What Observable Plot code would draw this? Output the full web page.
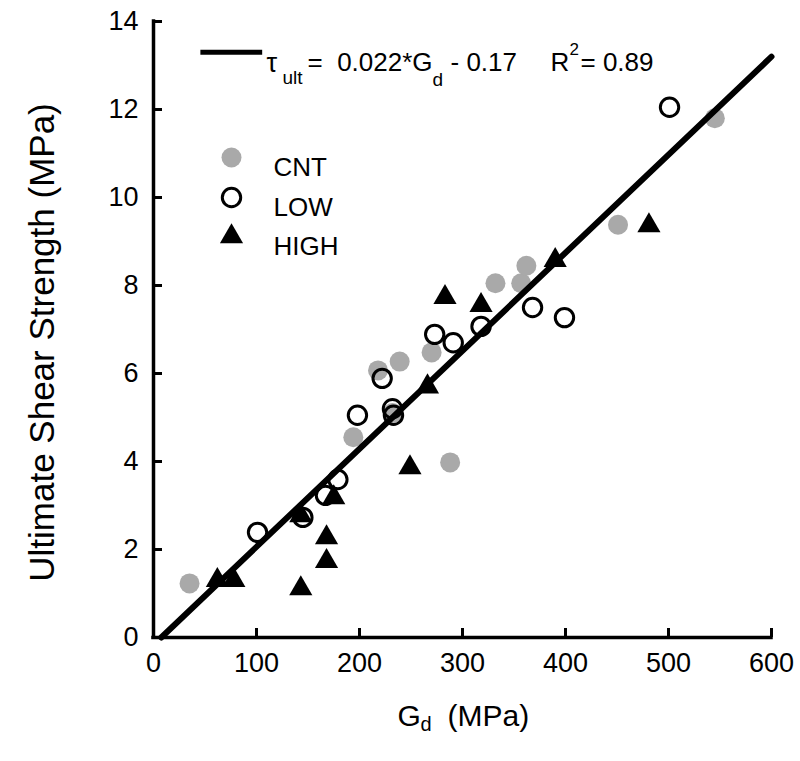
<!DOCTYPE html>
<html>
<head>
<meta charset="utf-8">
<script src="https://cdn.jsdelivr.net/npm/d3@7"></script>
<script src="https://cdn.jsdelivr.net/npm/@observablehq/plot@0.6"></script>
<style>
  html, body { margin: 0; padding: 0; background: #fff; }
</style>
</head>
<body>
<div id="chart"></div>
<script>
// CNT group (gray filled circles)
const cntG   = [35, 194, 232, 218, 239, 270, 288, 332, 357, 362, 451, 545];
const cntTau = [1.23, 4.55, 5.10, 6.07, 6.27, 6.48, 3.98, 8.05, 8.05, 8.45, 9.38, 11.8];

// LOW group (open circles)
const lowG   = [101, 145, 167, 179, 198, 222, 232, 233, 273, 291, 318, 368, 399, 501];
const lowTau = [2.39, 2.73, 3.23, 3.59, 5.05, 5.89, 5.20, 5.05, 6.89, 6.70, 7.07, 7.50, 7.27, 12.05];

// HIGH group (filled triangles)
const highG   = [62, 78, 143, 143, 168, 168, 175, 249, 266, 283, 318, 390, 481];
const highTau = [1.30, 1.30, 1.11, 2.77, 1.73, 2.27, 3.18, 3.86, 5.70, 7.73, 7.55, 8.57, 9.36];

// Regression line endpoints (tau_ult = 0.022*Gd - 0.17)
const fitG   = [7.5, 600];
const fitTau = [0, 13.2];

// Ticks
const xTicks = [0, 100, 200, 300, 400, 500, 600];
const yTicks = [0, 2, 4, 6, 8, 10, 12, 14];

const legendLabels = ["CNT", "LOW", "HIGH"];

const cnt  = cntG.map((g, i) => ({g, t: cntTau[i]}));
const low  = lowG.map((g, i) => ({g, t: lowTau[i]}));
const high = highG.map((g, i) => ({g, t: highTau[i]}));
const fit  = fitG.map((g, i) => ({g, t: fitTau[i]}));

const FONT = "'Liberation Sans', Arial, Helvetica, sans-serif";
const GRAY = "#a9a9a9";
const W = 800, H = 761, ML = 153, MR = 29, MT = 21, MB = 124;
const FW = W - ML - MR, FH = H - MT - MB;
const TICK = 9;

function txt(s, x, y, size, extra = {}) {
  return Plot.text([s], {
    frameAnchor: "top-left", dx: x - ML, dy: y - MT,
    text: d => d, textAnchor: "start", fontSize: size, fill: "black", ...extra
  });
}

const chart = Plot.plot({
  width: W,
  height: H,
  marginLeft: ML,
  marginRight: MR,
  marginTop: MT,
  marginBottom: MB,
  style: {fontFamily: FONT, fontSize: "27px", background: "white", color: "black"},
  x: {domain: [0, 600], axis: null},
  y: {domain: [0, 14], axis: null},
  marks: [
    // tick labels
    Plot.axisX(xTicks, {tickSize: 0, tickPadding: 15, fontSize: 27, label: null}),
    Plot.axisY(yTicks, {tickSize: 0, tickPadding: 15, fontSize: 27, label: null}),
    // inward ticks
    Plot.ruleX(xTicks, {x: d => d, insetTop: FH - TICK, strokeWidth: 3}),
    Plot.ruleY(yTicks, {y: d => d, insetRight: FW - TICK, strokeWidth: 3}),
    // axis lines
    Plot.ruleY([0], {strokeWidth: 3.5, strokeLinecap: "square"}),
    Plot.ruleX([0], {strokeWidth: 3.5, strokeLinecap: "square"}),

    // data
    Plot.dot(cnt, {x: "g", y: "t", r: 10, fill: GRAY, stroke: null}),
    Plot.dot(low, {x: "g", y: "t", r: 9.2, fill: "none", stroke: "black", strokeWidth: 3}),
    Plot.dot(high, {x: "g", y: "t", r: 8.6, symbol: "triangle", fill: "black", stroke: null}),
    Plot.line(fit, {x: "g", y: "t", stroke: "black", strokeWidth: 6}),

    // legend
    Plot.dot([0], {frameAnchor: "top-left", dx: 231 - ML, dy: 157 - MT, r: 10, fill: GRAY, stroke: null}),
    Plot.dot([0], {frameAnchor: "top-left", dx: 231 - ML, dy: 197 - MT, r: 9.2, fill: "none", stroke: "black", strokeWidth: 3}),
    Plot.dot([0], {frameAnchor: "top-left", dx: 231 - ML, dy: 236 - MT, r: 8.6, symbol: "triangle", fill: "black", stroke: null}),
    txt(legendLabels[0], 273, 157, 26),
    txt(legendLabels[1], 273, 197, 26),
    txt(legendLabels[2], 273, 236, 26),

    // equation with line sample
    Plot.ruleY([13.3], {x1: 46, x2: 106, stroke: "black", strokeWidth: 5}),
    txt("τ", 266, 52, 27),
    txt("ult", 282, 70, 19),
    txt("=  0.022*G", 307, 52, 26),
    txt("d", 432, 72, 19),
    txt("- 0.17", 450, 52, 26),
    txt("R", 550, 52, 26),
    txt("2", 569, 42, 17),
    txt("= 0.89", 580, 52, 26),

    // axis labels
    txt("G", 397, 704, 30),
    txt("d", 420, 716, 20),
    txt("(MPa)", 447, 704, 30),
    Plot.text(["Ultimate Shear Strength (MPa)"], {
      frameAnchor: "top-left", dx: 29 - ML, dy: 342 - MT, rotate: -90,
      text: d => d, textAnchor: "middle", fontSize: 35, fill: "black"
    })
  ]
});

document.getElementById("chart").appendChild(chart);
</script>
</body>
</html>
